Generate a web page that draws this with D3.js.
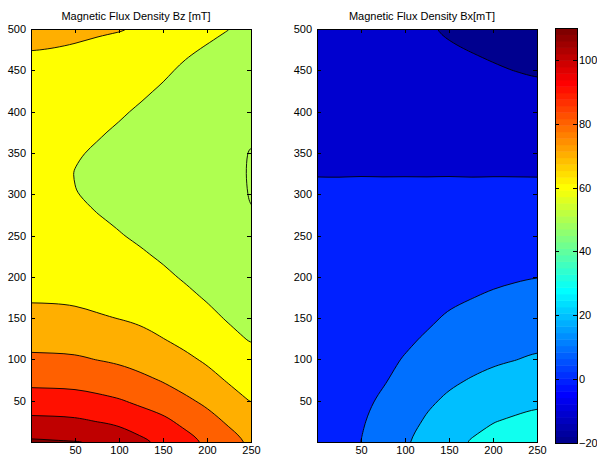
<!DOCTYPE html>
<html>
<head>
<meta charset="utf-8">
<script src="https://cdn.jsdelivr.net/npm/d3@7"></script>
<style>
body{margin:0;background:#fff}
svg{display:block}
</style>
</head>
<body>
<script>
// grid (mm): columns at x = 0..250 step 25, each column lists values from y = 0 up to y = 500 step 25
const gridX = [0,25,50,75,100,125,150,175,200,225,250];
const gridY = [0,25,50,75,100,125,150,175,200,225,250,275,300,325,350,375,400,425,450,475,500];

// Bz [mT], one array per column
const bz = [
  [111.5,102.3,94.4,87.5,81.6,77,72.9,69,67,65.5,64.5,63.8,63.3,63.2,63.5,64.3,65.5,67,68.5,70.1,71.5],
  [110.8,102,94.1,87.3,81.4,76.8,72.5,69,66.5,64.8,63.6,62.7,62.2,62,62.3,63,64.3,66,68,69.9,71.3],
  [110.3,101.6,93.8,87.1,81.2,76.5,72.1,68.7,66,64,62.5,61.2,60.15,59.8,60.5,61.8,63.5,65.5,67.5,69.6,71],
  [109.8,99.8,92.3,85.8,79.8,75.4,70.9,67.5,64.5,62.3,60.9,60.1,58.9,58.5,59.3,60.6,62.5,64.6,66.7,69,70.6],
  [107.5,98.2,90.7,84.4,78.7,74.2,69.8,66.5,63.5,61.5,60.3,59.1,58.2,57.7,58.1,59.2,60.8,63,65.5,67.8,70.4],
  [101.9,94.8,88,81.9,76.8,72.2,68.9,65.8,63.2,60.8,59,57.8,57,56.7,57,57.8,59.1,61.1,63.7,66.6,69.6],
  [98.8,92.2,85.4,79.4,74.8,70.1,67.2,64.2,61.3,59.2,57.8,56.8,56.1,55.8,56,56.6,57.6,59.1,61.3,64,67.2],
  [93.6,87.6,81.6,76.4,71.6,67.9,64.9,61.8,59.2,57.3,56,55,54.4,54.1,54.2,54.7,55.5,56.8,58.7,61.2,64],
  [89.3,83.6,78.1,73.1,68.8,65.5,62.3,59.3,57.2,55.6,54.4,53.5,52.9,52.6,52.6,53,53.7,54.9,56.7,59.3,62],
  [83.6,78.6,73.7,69.1,65.8,62.4,59.1,56.6,54.7,53.3,52.2,51.4,50.8,50.65,50.7,51,51.6,52.6,54.4,56.9,60.1],
  [79.2,74.3,69.6,66.1,62.6,59.2,56.4,54.2,52.5,51.3,50.5,50.05,49.85,49.8,49.85,50.3,50.9,51.6,53.3,55.5,58.3]
];

// Bx [mT], one array per column
const bx = [
  [5,4.9,4.9,4.8,4.8,4.7,4.6,4.5,4.5,4.4,4.3,4.2,4.2,-0.8,-2,-3,-4,-5,-5.8,-6.5,-7],
  [7.4,7.1,6.8,6.5,6.2,5.9,5.6,5.3,5.1,4.8,4.6,4.4,4.2,-1,-2.1,-3.2,-4.2,-5.2,-6.1,-6.9,-7.5],
  [10.05,9.3,8.6,8,7.4,6.9,6.4,5.9,5.5,5.1,4.8,4.5,4.2,-0.6,-2.2,-3.4,-4.5,-5.6,-6.6,-7.5,-8.2],
  [14.6,13,11,9.4,8.6,7.9,7.3,6.7,6.1,5.6,5.1,4.6,4.2,-0.9,-2.3,-3.6,-4.9,-6.1,-7.2,-8.2,-9],
  [19.3,16.5,14,12,10.4,8.9,8.1,7.4,6.8,6.1,5.4,4.8,4.2,-0.7,-2.4,-3.9,-5.3,-6.7,-7.9,-9,-9.7],
  [23.7,21.1,18.6,16.1,13.6,10.7,8.9,8,7.1,6.2,5.5,4.8,4.2,-0.9,-2.5,-4.2,-5.8,-7.3,-8.6,-9.7,-9.8],
  [27.5,24.5,21.4,18.7,16,13.4,10.8,8.9,7.6,6.5,5.6,4.9,4.2,-0.6,-2.6,-4.4,-6,-7.6,-9,-9.7,-10.4],
  [30.6,27.2,23.8,20.4,17.7,15,12.4,9.8,8.1,6.8,5.7,4.9,4.2,-1,-2.7,-4.6,-6.3,-7.9,-9.3,-10.1,-10.9],
  [33.5,29.7,26,22.2,18.9,16.3,13.6,11,8.6,7.1,5.9,5,4.2,-0.7,-2.8,-4.8,-6.6,-8.3,-9.7,-10.5,-11.3],
  [34.5,31.1,27.3,23.5,19.8,17.2,14.5,11.8,9.3,7.5,6.1,5.1,4.2,-0.8,-2.9,-5,-7.2,-8.8,-10.05,-10.9,-11.7],
  [36,32.5,28.6,24.9,21.1,18.1,15.4,12.7,9.95,7.9,6.3,5.2,4.2,-0.9,-3,-5.2,-7.6,-9.5,-10.3,-11.2,-12]
];

const bzLevels = [50,60,70,80,90,100,110];
const bxLevels = [-20,-10,0,10,20,30];
const xTicks = [50,100,150,200,250];
const yTicks = [50,100,150,200,250,300,350,400,450,500];
const cbTicks = [-20,0,20,40,60,80,100];
const cRange = [-20,110];

const W=597,H=455;
const font='"Liberation Sans", Arial, Helvetica, sans-serif';

const svg=d3.select("body").append("svg").attr("width",W).attr("height",H);

// matlab jet(64)
function jet(k){
  const c=t=>Math.max(0,Math.min(1,t));
  return d3.rgb(255*c(Math.min((k-24)/16,(72-k)/16)),
                255*c(Math.min((k-8)/16,(56-k)/16)),
                255*c(Math.min((k+8)/16,(40-k)/16))).formatHex();
}
function levelColor(v){
  const k=Math.min(64,Math.max(1,Math.floor((v-cRange[0])/(cRange[1]-cRange[0])*64)+1));
  return jet(k);
}

const step=gridX[1]-gridX[0];
const nx=gridX.length, ny=gridY.length;
const pad=2; // edge cells repeated outside the frame so smoothing of ring corners stays hidden
const px=nx+2*pad, py=ny+2*pad;

function panel(left,title,cols,levels,id){
  const x=d3.scaleLinear().domain([0,250]).range([left,left+220]);
  const y=d3.scaleLinear().domain([0,500]).range([442,29]);

  // flatten column arrays into row-major grid, edge values repeated in the padding
  const flat=[];
  for(let j=0;j<py;j++){
    const jj=Math.max(0,Math.min(ny-1,j-pad));
    for(let i=0;i<px;i++){
      const ii=Math.max(0,Math.min(nx-1,i-pad));
      flat.push(cols[ii][jj]);
    }
  }

  svg.append("clipPath").attr("id",id).append("rect")
     .attr("x",x(0)).attr("y",y(500)).attr("width",x(250)-x(0)).attr("height",y(0)-y(500));

  const g=svg.append("g").attr("clip-path","url(#"+id+")");

  g.append("rect").attr("x",x(0)).attr("y",y(500))
   .attr("width",x(250)-x(0)).attr("height",y(0)-y(500))
   .attr("fill",levelColor(levels[0]));

  const line=d3.line().curve(d3.curveBasisClosed);
  const toPx=p=>[x(gridX[0]+(p[0]-0.5-pad)*step), y(gridY[0]+(p[1]-0.5-pad)*step)];

  const cs=d3.contours().size([px,py]).thresholds(levels)(flat);
  g.selectAll("path").data(cs).enter().append("path")
   .attr("d",c=>c.coordinates.map(poly=>poly.map(ring=>line(ring.slice(0,-1).map(toPx))).join("")).join(""))
   .attr("fill",c=>levelColor(c.value))
   .attr("fill-rule","evenodd")
   .attr("stroke","#000")
   .attr("stroke-width",0.9);

  // axes, ticks inside on all four sides
  svg.append("g").attr("transform","translate(0,"+y(0)+")")
    .call(d3.axisBottom(x).tickValues(xTicks).tickSize(-4).tickPadding(4));
  svg.append("g").attr("transform","translate(0,"+y(500)+")")
    .call(d3.axisTop(x).tickValues(xTicks).tickSize(-4).tickFormat(""));
  svg.append("g").attr("transform","translate("+x(0)+",0)")
    .call(d3.axisLeft(y).tickValues(yTicks).tickSize(-4).tickPadding(5));
  svg.append("g").attr("transform","translate("+x(250)+",0)")
    .call(d3.axisRight(y).tickValues(yTicks).tickSize(-4).tickFormat(""));

  svg.append("rect").attr("x",x(0)).attr("y",y(500))
     .attr("width",x(250)-x(0)).attr("height",y(0)-y(500))
     .attr("fill","none").attr("stroke","#000").attr("shape-rendering","crispEdges");

  svg.append("text").attr("x",(x(0)+x(250))/2-5).attr("y",20)
     .attr("text-anchor","middle").attr("font-family",font).attr("font-size",11)
     .text(title);
}

panel(31,"Magnetic Flux Density Bz [mT]",bz,bzLevels,"clipBz");
panel(317,"Magnetic Flux Density Bx[mT]",bx,bxLevels,"clipBx");

// colorbar
const cb=d3.scaleLinear().domain(cRange).range([443,28]);
const strips=d3.range(64);
const sw=(cRange[1]-cRange[0])/64;
svg.append("g").selectAll("rect").data(strips).enter().append("rect")
  .attr("x",555).attr("width",22)
  .attr("y",k=>cb(cRange[0]+(k+1)*sw))
  .attr("height",k=>cb(cRange[0]+k*sw)-cb(cRange[0]+(k+1)*sw)+0.5)
  .attr("fill",k=>jet(k+1));
svg.append("g").attr("transform","translate(577,0)")
  .call(d3.axisRight(cb).tickValues(cbTicks).tickSize(-4).tickPadding(2));
svg.append("g").attr("transform","translate(555,0)")
  .call(d3.axisLeft(cb).tickValues(cbTicks).tickSize(-4).tickFormat(""));
svg.append("rect").attr("x",555).attr("y",28).attr("width",22).attr("height",415)
  .attr("fill","none").attr("stroke","#000").attr("shape-rendering","crispEdges");

svg.selectAll(".domain").remove();
svg.selectAll(".tick line").attr("stroke","#000").attr("shape-rendering","crispEdges");
svg.selectAll(".tick text").attr("font-family",font).attr("font-size",11).attr("fill","#000");
</script>
</body>
</html>
